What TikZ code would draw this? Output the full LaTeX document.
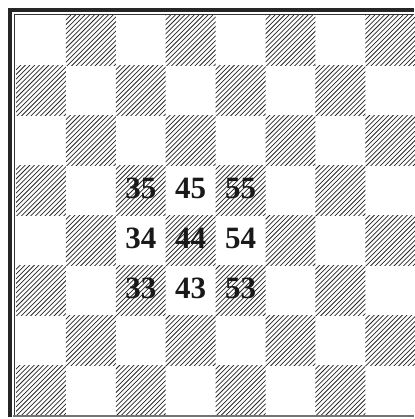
\documentclass[tikz,border=0pt]{standalone}
\usepackage{fontspec}
\setmainfont{Liberation Serif}
\tikzset{
  hatchline/.style={line width=0.75pt,draw=black!85},
  numlabel/.style={font=\fontsize{31}{31}\selectfont\bfseries,inner sep=0pt,text=black!90},
  outerframe/.style={line width=4pt,draw=black!85},
  innerframe/.style={line width=0.9pt,draw=black!80},
  bottomline/.style={line width=1.5pt,draw=black!55}
}
\begin{document}
\begin{tikzpicture}[x=1pt,y=-1pt]
\useasboundingbox (0,0) rectangle (414,419);
\def\sq{49.9}
% dark squares (hatched)
\foreach \c in {0,...,7}{
  \foreach \r in {0,...,7}{
    \ifodd\numexpr\c+\r\relax
      \begin{scope}
        \clip ({16+\c*\sq},{16+\r*\sq}) rectangle ++(\sq,\sq);
        \foreach \t in {-11,...,11}{
          \draw[hatchline] ({16+\c*\sq+\t*4.7},{16+(\r+1)*\sq+1}) -- ++(\sq+2,-\sq-2);
        }
      \end{scope}
    \fi
  }
}
% frame
\draw[outerframe] (10,417) -- (10,10) -- (414,10);
\draw[innerframe] (14.7,415.5) -- (14.7,14.7) -- (414,14.7);
\draw[bottomline] (13,415.8) -- (414,415.8);
% labels
\foreach \f/\k in {3/5,4/5,5/5,3/4,4/4,5/4,3/3,4/3,5/3}{
  \node[numlabel] (n\f\k) at ({16+(\f-0.5)*\sq},{16+(8.5-\k)*\sq-2.5}) {\f\k};
}
\end{tikzpicture}
\end{document}
